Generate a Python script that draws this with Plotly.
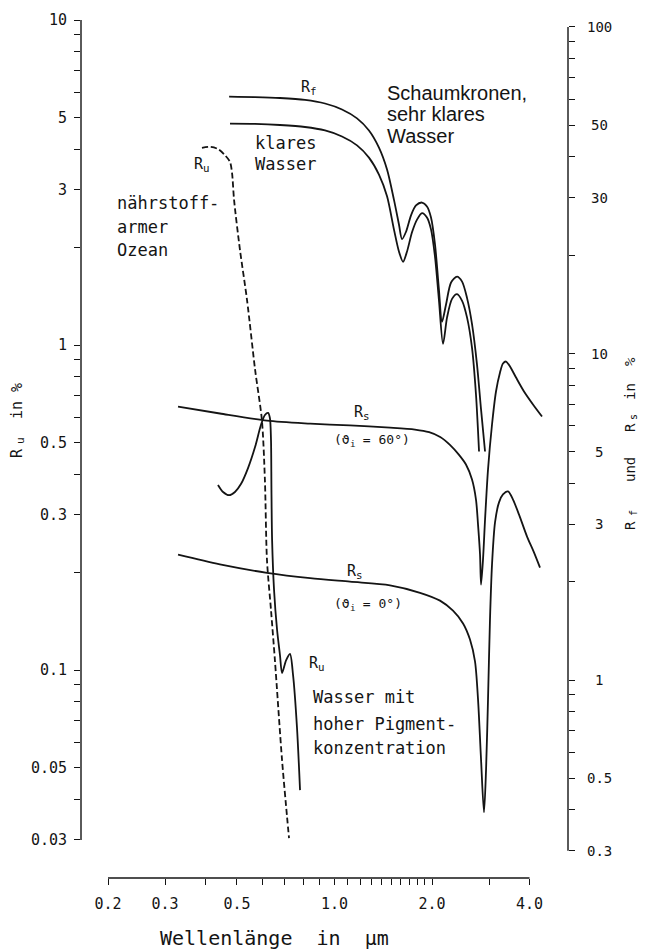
import math
import plotly.graph_objects as go

# ---- spectra: wavelength in µm, reflectance in % ----
# R_f, foam crests over very clear water (right axis)
rf_foam_wl = [0.473, 0.568, 0.679, 0.811, 0.935, 1.055, 1.174, 1.278, 1.372, 1.453, 1.526,
              1.582, 1.616, 1.663, 1.723, 1.785, 1.863, 1.930, 1.986, 2.043, 2.101, 2.147,
              2.209, 2.290, 2.390, 2.477, 2.565, 2.658, 2.754, 2.834, 2.916]
rf_foam = [61.2, 61.0, 60.6, 59.8, 58.3, 55.9, 52.5, 48.2, 42.7, 36.6, 29.6,
           24.8, 22.4, 23.6, 26.5, 28.4, 29.0, 28.2, 26.1, 21.6, 15.7, 12.5,
           14.1, 16.5, 17.2, 16.6, 14.8, 12.3, 9.25, 6.74, 5.01]

# R_f, foam crests over clear water (right axis)
rf_clear_wl = [0.476, 0.568, 0.679, 0.811, 0.935, 1.055, 1.174, 1.278, 1.372, 1.453, 1.526,
               1.582, 1.628, 1.674, 1.735, 1.798, 1.863, 1.930, 1.986, 2.043, 2.101, 2.163,
               2.226, 2.306, 2.390, 2.477, 2.565, 2.658, 2.734, 2.794]
rf_clear = [50.6, 50.5, 50.1, 49.4, 48.2, 46.2, 43.4, 39.8, 35.3, 30.3, 24.0,
            20.5, 19.1, 20.5, 23.5, 25.7, 26.9, 26.1, 24.0, 19.8, 14.6, 10.7,
            12.9, 14.7, 15.2, 14.5, 12.9, 10.4, 7.49, 5.01]

# R_s, specular reflectance at 60° incidence (right axis)
rs60_wl = [0.329, 0.443, 0.619, 0.841, 1.116, 1.484, 1.772, 1.960, 2.120, 2.272, 2.420,
           2.546, 2.658, 2.734, 2.774, 2.814, 2.834, 2.874, 2.916, 2.978, 3.064, 3.152,
           3.243, 3.312, 3.384, 3.482, 3.634, 3.846, 4.100, 4.371]
rs60 = [6.88, 6.55, 6.23, 6.10, 6.02, 5.93, 5.85, 5.74, 5.55, 5.25, 4.90,
        4.57, 4.11, 3.57, 2.99, 2.42, 1.96, 2.34, 3.10, 4.41, 6.06, 7.65,
        8.75, 9.32, 9.45, 9.12, 8.44, 7.65, 6.98, 6.41]

# R_s, specular reflectance at normal incidence (right axis)
rs0_wl = [0.329, 0.443, 0.619, 0.841, 1.116, 1.484, 1.837, 2.117, 2.322, 2.494, 2.620,
          2.715, 2.774, 2.834, 2.894, 2.937, 2.978, 3.020, 3.064, 3.130, 3.220, 3.312,
          3.433, 3.557, 3.713, 3.930, 4.128, 4.309]
rs0 = [2.42, 2.26, 2.13, 2.05, 2.00, 1.95, 1.85, 1.75, 1.63, 1.49, 1.33,
       1.14, 0.872, 0.571, 0.393, 0.532, 0.872, 1.53, 2.26, 3.04, 3.50, 3.70,
       3.78, 3.57, 3.21, 2.75, 2.46, 2.21]

# R_u, nutrient-poor ocean (left axis, dashed)
ru_ocean_wl = [0.390, 0.413, 0.437, 0.459, 0.476, 0.483, 0.490, 0.511, 0.537, 0.569,
               0.597, 0.610, 0.619, 0.637, 0.655, 0.689, 0.714, 0.724]
ru_ocean = [4.04, 4.07, 4.01, 3.84, 3.66, 3.38, 2.79, 1.96, 1.38, 0.838,
            0.588, 0.384, 0.218, 0.153, 0.107, 0.0528, 0.0353, 0.0304]

# R_u, water with high pigment concentration (left axis)
ru_pigment_wl = [0.437, 0.453, 0.473, 0.493, 0.515, 0.541, 0.569, 0.593, 0.610, 0.624,
                 0.632, 0.637, 0.639, 0.642, 0.651, 0.665, 0.679, 0.689, 0.709, 0.729,
                 0.745, 0.766, 0.783]
ru_pigment = [0.371, 0.353, 0.345, 0.353, 0.374, 0.418, 0.486, 0.567, 0.609, 0.618,
              0.596, 0.510, 0.358, 0.251, 0.176, 0.133, 0.111, 0.0979, 0.107, 0.112,
              0.0966, 0.0668, 0.0427]

# ---- ticks ----
x_major = [0.2, 0.3, 0.5, 1.0, 2.0, 4.0]
x_major_text = ["0.2", "0.3", "0.5", "1.0", "2.0", "4.0"]
x_minor = [0.4, 0.6, 0.7, 0.8, 0.9, 1.1, 1.2, 1.3, 1.4, 1.5, 1.6, 1.7, 1.8, 1.9, 3.0]

left_major = [0.03, 0.05, 0.1, 0.3, 0.5, 1, 3, 5, 10]
left_major_text = ["0.03", "0.05", "0.1", "0.3", "0.5", "1", "3", "5", "10"]
left_minor = [0.04, 0.06, 0.07, 0.08, 0.09, 0.2, 0.4, 0.6, 0.7, 0.8, 0.9,
              2, 4, 6, 7, 8, 9]

right_major = [0.3, 0.5, 1, 3, 5, 10, 30, 50, 100]
right_major_text = ["0.3", "0.5", "1", "3", "5", "10", "30", "50", "100"]
right_minor = [0.4, 0.6, 0.7, 0.8, 0.9, 2, 4, 6, 7, 8, 9, 20, 40, 60, 70, 80, 90]

# ---- plain text labels: (text, wavelength, reflectance, axis, font, size) ----
MONO = "DejaVu Sans Mono"
SANS = "Liberation Sans"
text_labels = [
    ("Schaumkronen,", 1.43, 63.0, "y2", SANS, 20),
    ("sehr klares", 1.43, 54.0, "y2", SANS, 20),
    ("Wasser", 1.43, 46.2, "y2", SANS, 20),
    ("klares", 0.560, 4.18, "y", MONO, 17),
    ("Wasser", 0.560, 3.61, "y", MONO, 17),
    ("nährstoff-", 0.210, 2.73, "y", MONO, 17),
    ("armer", 0.210, 2.31, "y", MONO, 17),
    ("Ozean", 0.210, 1.96, "y", MONO, 17),
    ("Wasser mit", 0.846, 0.0826, "y", MONO, 17),
    ("hoher Pigment-", 0.846, 0.0682, "y", MONO, 17),
    ("konzentration", 0.846, 0.0575, "y", MONO, 17),
]

# curve symbols with subscripts: (pieces, wavelength, reflectance, axis, size)
# each piece is (text, is_subscript)
symbol_labels = [
    ([("R", False), ("f", True)], 0.777, 65.7, "y2", 15),
    ([("R", False), ("u", True)], 0.363, 3.61, "y", 15),
    ([("R", False), ("s", True)], 1.133, 6.60, "y2", 15),
    ([("(ϑ", False), ("i", True), (" = 60°)", False)], 0.983, 5.45, "y2", 13),
    ([("R", False), ("s", True)], 1.078, 2.15, "y2", 15),
    ([("(ϑ", False), ("i", True), (" = 0°)", False)], 0.983, 1.715, "y2", 13),
    ([("R", False), ("u", True)], 0.823, 0.1051, "y", 15),
]

INK = "#141414"
NB = "\u00a0"
MARGIN = dict(l=81, r=77, t=20, b=72)
W, H = 645, 950
CHAR = 0.602          # advance width of the monospace face, in em
SUB = 0.72            # subscript scale

fig = go.Figure()

def curve(wl, val, axis, dash=None):
    fig.add_trace(go.Scatter(
        x=wl, y=val, yaxis=axis, mode="lines",
        line=dict(color=INK, width=1.8, shape="spline", smoothing=0.8, dash=dash),
        hoverinfo="skip"))

curve(rf_foam_wl, rf_foam, "y2")
curve(rf_clear_wl, rf_clear, "y2")
curve(rs60_wl, rs60, "y2")
curve(rs0_wl, rs0, "y2")
curve(ru_ocean_wl, ru_ocean, "y", dash="6px,3px")
curve(ru_pigment_wl, ru_pigment, "y")

tick_style = dict(ticks="outside", ticklen=6, tickwidth=1.4, tickcolor=INK)
axis_common = dict(type="log", showgrid=False, showline=False, zeroline=False, **tick_style)

def minor(vals):
    return dict(tickmode="array", tickvals=vals, showgrid=False, **tick_style)

fig.update_layout(
    width=W, height=H,
    margin=MARGIN,
    paper_bgcolor="white", plot_bgcolor="white",
    showlegend=False,
    xaxis=dict(**axis_common, range=[-0.7823, 0.7208],
               tickmode="array", tickvals=x_major, ticktext=x_major_text, minor=minor(x_minor),
               tickfont=dict(family=MONO, size=15, color=INK), ticklabelstandoff=6),
    yaxis=dict(**axis_common, range=[-1.64, 1.0],
               tickmode="array", tickvals=left_major, ticktext=left_major_text,
               minor=minor(left_minor),
               tickfont=dict(family=MONO, size=15, color=INK), ticklabelstandoff=4),
    yaxis2=dict(**axis_common, range=[-0.6064, 2.0214], overlaying="y", side="right",
                tickmode="array", tickvals=right_major, minor=minor(right_minor),
                showticklabels=False),
)

# axis lines spanning only the scaled ranges
line_style = dict(color=INK, width=1.4)
fig.add_shape(type="line", xref="paper", x0=0, x1=0, yref="y", y0=0.03, y1=10, line=line_style)
fig.add_shape(type="line", xref="paper", x0=1, x1=1, yref="y2", y0=0.3, y1=100, line=line_style)
fig.add_shape(type="line", xref="x", x0=0.2, x1=4.0, yref="paper", y0=0, y1=0, line=line_style)

# right-hand tick labels, centred beside the axis
for txt, v in zip(right_major_text, right_major):
    fig.add_annotation(text=txt, xref="paper", x=1.0637, yref="y2", y=math.log10(v),
                       showarrow=False, xanchor="center", yanchor="middle",
                       font=dict(family=MONO, size=14, color=INK))

# descriptive labels, left-aligned at their anchor
for txt, wl, val, axis, fam, size in text_labels:
    fig.add_annotation(text=txt, xref="x", x=math.log10(wl), yref=axis, y=math.log10(val),
                       showarrow=False, xanchor="left", yanchor="middle",
                       font=dict(family=fam, size=size, color=INK))

# symbols: each piece placed after the previous one, subscripts smaller and lowered
for pieces, wl, val, axis, size in symbol_labels:
    offset = 0.0
    for txt, is_sub in pieces:
        fs = size * SUB if is_sub else size
        fig.add_annotation(text=txt.replace(" ", NB), xref="x", x=math.log10(wl),
                           yref=axis, y=math.log10(val),
                           xshift=offset, yshift=-0.3 * size if is_sub else 0,
                           showarrow=False, xanchor="left", yanchor="middle",
                           font=dict(family=MONO, size=fs, color=INK))
        offset += len(txt) * CHAR * fs

# rotated axis titles, piece by piece (figure pixel positions)
def paper(px, py):
    pw = W - MARGIN["l"] - MARGIN["r"]
    ph = H - MARGIN["t"] - MARGIN["b"]
    return (px - MARGIN["l"]) / pw, (H - MARGIN["b"] - py) / ph

title_pieces = [
    # left: R_u in %
    ("R", 17, 453, 15), ("u", 20, 441, 11), ("in", 17, 410, 15), ("%", 17, 388, 15),
    # right: R_f und R_s in %
    ("R", 630, 526, 14), ("f", 633, 513, 10), ("und", 630, 470, 14),
    ("R", 630, 428, 14), ("s", 633, 417, 10), ("in", 630, 392, 14), ("%", 630, 362, 14),
]
for txt, px, py, size in title_pieces:
    xp, yp = paper(px, py)
    fig.add_annotation(text=txt, xref="paper", x=xp, yref="paper", y=yp, textangle=-90,
                       showarrow=False, xanchor="center", yanchor="middle",
                       font=dict(family=MONO, size=size, color=INK))

xp, yp = paper(274, 938)
fig.add_annotation(text=f"Wellenlänge{NB}{NB}in{NB}{NB}µm", xref="paper", x=xp,
                   yref="paper", y=yp, showarrow=False,
                   xanchor="center", yanchor="middle",
                   font=dict(family=MONO, size=20, color=INK))

fig.write_html("out.html", config={"displayModeBar": False})
